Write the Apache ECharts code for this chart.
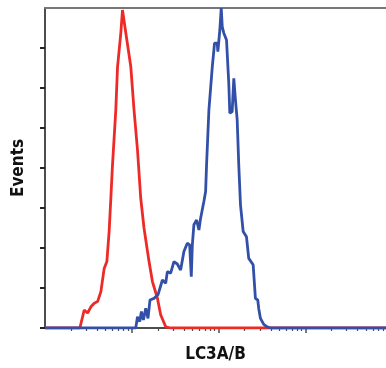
<!DOCTYPE html>
<html>
<head>
<meta charset="utf-8">
<script src="https://cdn.jsdelivr.net/npm/echarts@6/dist/echarts.min.js"></script>
<style>
html,body{margin:0;padding:0;background:#fff;}
#chart{width:386px;height:368px;}
</style>
</head>
<body>
<div id="chart"></div>
<script>
// x values are log10 of fluorescence intensity (decades), y values are event counts (relative units)
const redLogX = [1.0, 1.402, 1.452, 1.491, 1.529, 1.567, 1.606, 1.644, 1.682, 1.713, 1.739, 1.759, 1.778, 1.816, 1.836, 1.874, 1.893, 1.908, 1.931, 1.989, 2.026, 2.066, 2.103, 2.141, 2.199, 2.238, 2.295, 2.333, 2.391, 2.448, 4.93];
const redY    = [0, 0, 0.45, 0.375, 0.53, 0.62, 0.66, 0.91, 1.49, 1.66, 2.41, 3.25, 4.08, 5.45, 6.53, 7.38, 7.95, 8.0, 7.38, 6.53, 5.45, 4.45, 3.25, 2.5, 1.66, 1.16, 0.75, 0.33, 0.03, 0, 0];

const blueLogX = [1.0, 2.046, 2.066, 2.092, 2.111, 2.134, 2.161, 2.187, 2.210, 2.256, 2.302, 2.353, 2.391, 2.410, 2.448, 2.486, 2.525, 2.563, 2.601, 2.640, 2.667, 2.686, 2.698, 2.716, 2.747, 2.774, 2.793, 2.831, 2.851, 2.862, 2.889, 2.928, 2.954, 2.985, 2.992, 3.015, 3.031, 3.043, 3.061, 3.092, 3.118, 3.130, 3.157, 3.176, 3.195, 3.215, 3.233, 3.253, 3.284, 3.322, 3.348, 3.399, 3.425, 3.452, 3.463, 3.483, 3.521, 3.560, 3.598, 4.93];
const blueY    = [0, 0, 0.28, 0.16, 0.41, 0.2, 0.49, 0.24, 0.7, 0.74, 0.83, 1.2, 1.12, 1.41, 1.37, 1.66, 1.6, 1.45, 1.91, 2.12, 2.08, 1.28, 2.08, 2.58, 2.7, 2.45, 2.74, 3.16, 3.41, 4.08, 5.45, 6.53, 7.12, 7.12, 6.91, 7.45, 8.0, 7.53, 7.37, 7.2, 6.12, 5.37, 5.41, 6.24, 5.7, 5.2, 4.08, 3.08, 2.41, 2.28, 1.74, 1.58, 0.74, 0.7, 0.49, 0.24, 0.09, 0.03, 0, 0];

const xMin = 1.0, xMax = 4.93;
const majorDecades = [2, 3, 4];
const minorMultipliers = [2, 3, 4, 5, 6, 7, 8, 9];
const minorDecades = [1, 2, 3, 4];
const yTicks = [0, 1, 2, 3, 4, 5, 6, 7];

const minorTicks = [];
minorDecades.forEach(d => minorMultipliers.forEach(k => {
  const v = d + Math.log10(k);
  if (v < xMax) minorTicks.push(v);
}));

const pairs = (xs, ys) => xs.map((x, i) => [x, ys[i]]);
const axisColor = '#4d4d4d';
const fontFam = '"Liberation Sans Narrow","DejaVu Sans Condensed","Liberation Sans",Arial,sans-serif';

const chart = echarts.init(document.getElementById('chart'), null, {renderer: 'canvas'});
chart.setOption({
  animation: false,
  backgroundColor: '#fff',
  grid: {left: 45, right: 0, top: 8, bottom: 40, containLabel: false},
  xAxis: [
    {
      type: 'value', min: xMin, max: xMax, position: 'bottom',
      name: 'LC3A/B', nameLocation: 'middle', nameGap: 18,
      nameTextStyle: {fontFamily: fontFam, fontWeight: 'bold', fontSize: 17, color: '#111'},
      axisLine: {show: true, lineStyle: {color: axisColor, width: 2}},
      axisTick: {show: true, customValues: majorDecades, length: 5, lineStyle: {color: axisColor, width: 1.5}},
      axisLabel: {show: false}, splitLine: {show: false}
    },
    {
      type: 'value', min: xMin, max: xMax, position: 'bottom',
      axisLine: {show: false},
      axisTick: {show: true, customValues: minorTicks, length: 3, lineStyle: {color: axisColor, width: 1.2}},
      axisLabel: {show: false}, splitLine: {show: false}
    },
    {
      type: 'value', min: xMin, max: xMax, position: 'top',
      axisLine: {show: true, lineStyle: {color: '#777', width: 2}},
      axisTick: {show: false}, axisLabel: {show: false}, splitLine: {show: false}
    }
  ],
  yAxis: {
    type: 'value', min: 0, max: 8,
    name: 'Events', nameLocation: 'middle', nameGap: 18, nameRotate: 90,
    nameTextStyle: {fontFamily: fontFam, fontWeight: 'bold', fontSize: 17, color: '#111'},
    axisLine: {show: true, lineStyle: {color: axisColor, width: 2}},
    axisTick: {show: true, customValues: yTicks, length: 5, lineStyle: {color: '#222', width: 2}},
    axisLabel: {show: false}, splitLine: {show: false}
  },
  series: [
    {
      type: 'line', name: 'red', xAxisIndex: 0, data: pairs(redLogX, redY),
      showSymbol: false, symbol: 'none',
      lineStyle: {color: '#ee2a26', width: 2.8}, z: 3
    },
    {
      type: 'line', name: 'blue', xAxisIndex: 0, data: pairs(blueLogX, blueY),
      showSymbol: false, symbol: 'none',
      lineStyle: {color: '#3250a8', width: 2.8}, z: 4
    }
  ]
});
</script>
</body>
</html>
